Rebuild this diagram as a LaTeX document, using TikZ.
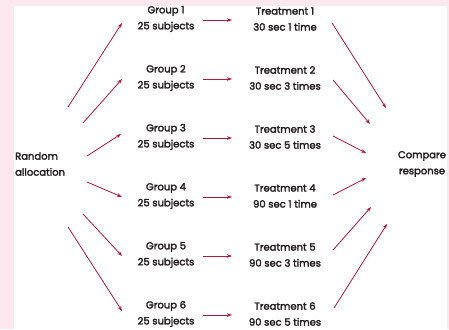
\documentclass[tikz,border=0pt]{standalone}
\usepackage{fontspec}
\setmainfont{Poppins}[UprightFeatures={FakeBold=2.6}]
\usetikzlibrary{arrows.meta,calc}
\definecolor{bgpink}{HTML}{FCE8EE}
\definecolor{arrowred}{HTML}{B0173E}
\definecolor{txt}{HTML}{231F20}
\begin{document}
\begin{tikzpicture}[x=1pt,y=-1pt,
  lbl/.style={align=center,font=\fontsize{10}{16}\selectfont,text=txt,inner sep=0pt},
  arr/.style={draw=arrowred,line width=0.8pt,-{Stealth[length=5pt,width=3.6pt]}}]
\fill[bgpink] (0,0) rectangle (449,329);
\fill[white] (14,6) rectangle (447,329);
\useasboundingbox (0,0) rectangle (449,329);
% side labels
\node[lbl,align=left,anchor=west] (r) at (15,164) {Random\\allocation};
\node[lbl] (c) at (422,164) {Compare\\response};
% groups and treatments
\foreach \i/\tt in {1/30 sec 1 time,2/30 sec 3 times,3/30 sec 5 times,4/90 sec 1 time,5/90 sec 3 times,6/90 sec 5 times}{
  \node[lbl] (g\i) at (166,{19+59*(\i-1)}) {Group \i\\25 subjects};
  \node[lbl] (t\i) at (285,{19+59*(\i-1)}) {Treatment \i\\\tt};
  \draw[arr] ($(g\i.center)+(37,1)$) -- ($(t\i.center)+(-53,1)$);
}
% left diagonal arrows
\coordinate (a1) at (68,107);  \coordinate (b1) at (122,23);
\coordinate (a2) at (83,123);  \coordinate (b2) at (122,79);
\coordinate (a3) at (87,156);  \coordinate (b3) at (121,134);
\coordinate (a4) at (87,182);  \coordinate (b4) at (122,197);
\coordinate (a5) at (83,214);  \coordinate (b5) at (122,256);
\coordinate (a6) at (68,227);  \coordinate (b6) at (122,311);
% right diagonal arrows
\coordinate (p1) at (332,23);  \coordinate (q1) at (386,108);
\coordinate (p2) at (333,80);  \coordinate (q2) at (370,124);
\coordinate (p3) at (333,136); \coordinate (q3) at (366,153);
\coordinate (p4) at (333,195); \coordinate (q4) at (366,178);
\coordinate (p5) at (333,250); \coordinate (q5) at (371,207);
\coordinate (p6) at (334,308); \coordinate (q6) at (387,224);
\foreach \i in {1,...,6}{
  \draw[arr] (a\i) -- (b\i);
  \draw[arr] (p\i) -- (q\i);
}
\end{tikzpicture}
\end{document}
